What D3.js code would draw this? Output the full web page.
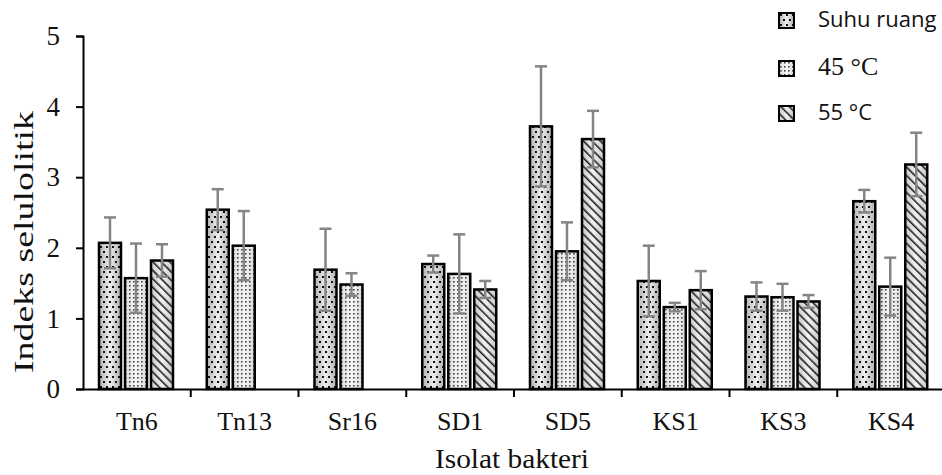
<!DOCTYPE html>
<html>
<head>
<meta charset="utf-8">
<script src="https://cdn.jsdelivr.net/npm/d3@7"></script>
<style>
  body { margin: 0; background: #fff; }
  svg { display: block; }
  .serif { font-family: "Liberation Serif", "Times New Roman", serif; }
  .sans { font-family: "Open Sans", "Noto Sans", sans-serif; }
</style>
</head>
<body>
<div class="plot"></div>
<script>
/* data */
const categories = ["Tn6", "Tn13", "Sr16", "SD1", "SD5", "KS1", "KS3", "KS4"];
const seriesNames = ["Suhu ruang", "45 °C", "55 °C"];
const suhuRuang   = [2.07, 2.54, 1.69, 1.77, 3.72, 1.53, 1.31, 2.66];
const suhuRuangSd = [0.36, 0.29, 0.58, 0.12, 0.85, 0.50, 0.20, 0.16];
const suhu45      = [1.57, 2.03, 1.48, 1.63, 1.95, 1.16, 1.30, 1.45];
const suhu45Sd    = [0.49, 0.49, 0.16, 0.56, 0.41, 0.06, 0.19, 0.41];
const suhu55      = [1.82, null, null, 1.41, 3.54, 1.40, 1.24, 3.18];
const suhu55Sd    = [0.23, null, null, 0.12, 0.40, 0.27, 0.09, 0.45];
const yTicks = [0, 1, 2, 3, 4, 5];

const values = [suhuRuang, suhu45, suhu55];
const errors = [suhuRuangSd, suhu45Sd, suhu55Sd];

/* flat table of bars */
const bars = [];
categories.forEach((c, i) => {
  seriesNames.forEach((s, j) => {
    if (values[j][i] != null) bars.push({cat: c, series: s, idx: j, value: values[j][i], sd: errors[j][i]});
  });
});

const width = 942, height = 475;
const svg = d3.select(".plot").append("svg")
  .attr("width", width)
  .attr("height", height);

/* patterns */
const defs = svg.append("defs");
const grad = defs.append("linearGradient").attr("id", "barGrad");
grad.append("stop").attr("offset", "0%").attr("stop-color", "#b0b0b0");
grad.append("stop").attr("offset", "50%").attr("stop-color", "#eeeeee");
grad.append("stop").attr("offset", "100%").attr("stop-color", "#b0b0b0");

const p0 = defs.append("pattern").attr("id", "pat0")
  .attr("patternUnits", "userSpaceOnUse").attr("width", 6).attr("height", 10);
p0.append("rect").attr("x", 1).attr("y", 1).attr("width", 2).attr("height", 2).attr("fill", "#111");
p0.append("rect").attr("x", 4).attr("y", 6).attr("width", 2).attr("height", 2).attr("fill", "#111");

const p1 = defs.append("pattern").attr("id", "pat1")
  .attr("patternUnits", "userSpaceOnUse").attr("width", 4).attr("height", 4);
p1.append("rect").attr("width", 4).attr("height", 4).attr("fill", "rgba(255,255,255,0.55)");
p1.append("rect").attr("x", 1).attr("y", 1).attr("width", 1.6).attr("height", 1.6).attr("fill", "#444");

const p2 = defs.append("pattern").attr("id", "pat2")
  .attr("patternUnits", "userSpaceOnUse").attr("width", 6).attr("height", 6)
  .attr("patternTransform", "rotate(-45)");
p2.append("rect").attr("width", 6).attr("height", 6).attr("fill", "rgba(255,255,255,0.3)");
p2.append("rect").attr("x", 0).attr("y", 0).attr("width", 1.6).attr("height", 6).attr("fill", "#222");

/* scales */
const x = d3.scaleBand()
  .domain(categories)
  .range([83, 83 + 8 * 107.75]);

const xInner = d3.scaleBand()
  .domain(seriesNames)
  .range([16, 90])
  .paddingInner(0.154)
  .paddingOuter(0);

const y = d3.scaleLinear()
  .domain([0, 5])
  .range([389, 36]);

/* bars */
const barG = svg.append("g");
const bx = d => x(d.cat) + xInner(d.series);

barG.selectAll(".barBg")
  .data(bars)
  .join("rect")
    .attr("class", "barBg")
    .attr("x", bx)
    .attr("y", d => y(d.value))
    .attr("width", xInner.bandwidth())
    .attr("height", d => y(0) - y(d.value))
    .attr("fill", "url(#barGrad)");

barG.selectAll(".barPat")
  .data(bars)
  .join("rect")
    .attr("class", "barPat")
    .attr("x", bx)
    .attr("y", d => y(d.value))
    .attr("width", xInner.bandwidth())
    .attr("height", d => y(0) - y(d.value))
    .attr("fill", d => `url(#pat${d.idx})`)
    .attr("stroke", "#000")
    .attr("stroke-width", 2.5);

/* error bars */
const errG = svg.append("g")
  .attr("stroke", "#858585")
  .attr("stroke-width", 2.5);
const cx = d => bx(d) + xInner.bandwidth() / 2;

errG.selectAll(".errLine")
  .data(bars)
  .join("line")
    .attr("x1", cx).attr("x2", cx)
    .attr("y1", d => y(d.value - d.sd))
    .attr("y2", d => y(d.value + d.sd));

errG.selectAll(".capTop")
  .data(bars)
  .join("line")
    .attr("x1", d => cx(d) - 6).attr("x2", d => cx(d) + 6)
    .attr("y1", d => y(d.value + d.sd))
    .attr("y2", d => y(d.value + d.sd));

errG.selectAll(".capBot")
  .data(bars)
  .join("line")
    .attr("x1", d => cx(d) - 6).attr("x2", d => cx(d) + 6)
    .attr("y1", d => y(d.value - d.sd))
    .attr("y2", d => y(d.value - d.sd));

/* y axis */
const yAxis = d3.axisLeft(y)
  .tickValues(yTicks)
  .tickSize(7)
  .tickPadding(16)
  .tickFormat(d3.format("d"));

svg.append("g")
  .attr("transform", "translate(83,0)")
  .call(yAxis)
  .attr("font-family", null)
  .attr("class", "serif")
  .call(g => g.select(".domain").attr("stroke-width", 2))
  .call(g => g.selectAll(".tick line").attr("stroke-width", 2))
  .call(g => g.selectAll(".tick text")
    .attr("font-size", 27)
    .attr("fill", "#111"));

/* x axis */
const xAxis = d3.axisBottom(x)
  .tickSize(0)
  .tickPadding(0)
  .tickSizeOuter(0);

svg.append("g")
  .attr("transform", "translate(0,389)")
  .call(xAxis)
  .attr("font-family", null)
  .attr("class", "serif")
  .call(g => g.select(".domain").attr("stroke-width", 2))
  .call(g => g.selectAll(".tick text")
    .attr("y", 41)
    .attr("dy", 0)
    .attr("font-size", 26)
    .attr("fill", "#111"));

/* boundary ticks between groups */
svg.append("g")
  .selectAll("line")
  .data(categories.slice(1))
  .join("line")
    .attr("x1", d => x(d)).attr("x2", d => x(d))
    .attr("y1", 389).attr("y2", 397)
    .attr("stroke", "#000")
    .attr("stroke-width", 2);

/* axis titles */
svg.append("text")
  .attr("class", "serif")
  .attr("x", 512)
  .attr("y", 468)
  .attr("text-anchor", "middle")
  .attr("font-size", 27)
  .attr("textLength", 154)
  .attr("lengthAdjust", "spacingAndGlyphs")
  .attr("fill", "#111")
  .text("Isolat bakteri");

svg.append("text")
  .attr("class", "serif")
  .attr("transform", "translate(33,242) rotate(-90)")
  .attr("text-anchor", "middle")
  .attr("font-size", 28)
  .attr("textLength", 262)
  .attr("lengthAdjust", "spacingAndGlyphs")
  .attr("fill", "#111")
  .text("Indeks selulolitik");

/* legend */
const legendY = [13, 61, 106];
const legendClass = ["sans", "serif", "sans"];
const legend = svg.append("g").selectAll("g")
  .data(seriesNames)
  .join("g")
    .attr("transform", (d, i) => `translate(779,${legendY[i]})`);

legend.append("rect")
  .attr("width", 15).attr("height", 15)
  .attr("fill", "url(#barGrad)");
legend.append("rect")
  .attr("width", 15).attr("height", 15)
  .attr("fill", (d, i) => `url(#pat${i})`)
  .attr("stroke", "#000")
  .attr("stroke-width", 2);
legend.append("text")
  .attr("class", (d, i) => legendClass[i])
  .attr("x", 39)
  .attr("y", 14)
  .attr("font-size", (d, i) => i === 1 ? 26 : 22)
  .attr("fill", "#111")
  .text(d => d);
</script>
</body>
</html>
